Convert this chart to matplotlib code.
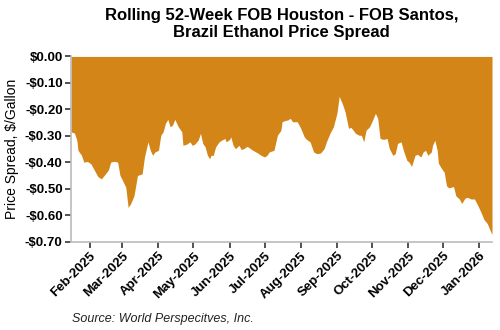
import matplotlib
matplotlib.use("Agg")
import matplotlib.pyplot as plt
import matplotlib.dates as mdates
import pandas as pd
import numpy as np

plt.rcParams['font.family'] = ['Liberation Sans', 'DejaVu Sans']

dates = [
    "2025-01-16", "2025-01-19", "2025-01-21", "2025-01-22", "2025-01-25", "2025-01-27",
    "2025-01-30", "2025-02-02", "2025-02-05", "2025-02-08", "2025-02-11", "2025-02-14",
    "2025-02-17", "2025-02-19", "2025-02-21", "2025-02-23", "2025-02-25", "2025-02-27",
    "2025-03-01", "2025-03-04", "2025-03-06", "2025-03-08", "2025-03-11", "2025-03-14",
    "2025-03-16", "2025-03-18", "2025-03-20", "2025-03-23", "2025-03-25", "2025-03-27",
    "2025-03-29", "2025-04-01", "2025-04-03", "2025-04-05", "2025-04-07", "2025-04-09",
    "2025-04-11", "2025-04-13", "2025-04-15", "2025-04-18", "2025-04-21", "2025-04-22",
    "2025-04-25", "2025-04-28", "2025-04-30", "2025-05-02", "2025-05-05", "2025-05-07",
    "2025-05-09", "2025-05-11", "2025-05-13", "2025-05-15", "2025-05-16", "2025-05-18",
    "2025-05-20", "2025-05-23", "2025-05-25", "2025-05-28", "2025-05-29", "2025-06-01",
    "2025-06-02", "2025-06-04", "2025-06-06", "2025-06-09", "2025-06-11", "2025-06-13",
    "2025-06-16", "2025-06-19", "2025-06-21", "2025-06-25", "2025-06-28", "2025-07-01",
    "2025-07-03", "2025-07-05", "2025-07-09", "2025-07-12", "2025-07-15", "2025-07-16",
    "2025-07-18", "2025-07-21", "2025-07-23", "2025-07-25", "2025-07-28", "2025-07-29",
    "2025-08-01", "2025-08-04", "2025-08-06", "2025-08-09", "2025-08-12", "2025-08-15",
    "2025-08-18", "2025-08-21", "2025-08-23", "2025-08-26", "2025-08-29", "2025-09-01",
    "2025-09-03", "2025-09-06", "2025-09-08", "2025-09-11", "2025-09-13", "2025-09-15",
    "2025-09-17", "2025-09-20", "2025-09-22", "2025-09-24", "2025-09-26", "2025-09-29",
    "2025-10-01", "2025-10-04", "2025-10-06", "2025-10-08", "2025-10-11", "2025-10-14",
    "2025-10-16", "2025-10-19", "2025-10-21", "2025-10-23", "2025-10-26", "2025-10-28",
    "2025-10-31", "2025-11-02", "2025-11-04", "2025-11-07", "2025-11-09", "2025-11-12",
    "2025-11-14", "2025-11-16", "2025-11-18", "2025-11-21", "2025-11-22", "2025-11-24",
    "2025-11-26", "2025-11-27", "2025-11-29", "2025-12-02", "2025-12-04", "2025-12-06",
    "2025-12-10", "2025-12-12", "2025-12-15", "2025-12-17", "2025-12-20", "2025-12-22",
    "2025-12-25", "2025-12-28", "2025-12-31", "2026-01-03", "2026-01-05", "2026-01-08",
    "2026-01-10", "2026-01-12",
]
spread = [
    -0.285, -0.290, -0.317, -0.355, -0.374, -0.400,
    -0.397, -0.406, -0.430, -0.454, -0.463, -0.447,
    -0.430, -0.400, -0.397, -0.397, -0.400, -0.450,
    -0.467, -0.495, -0.571, -0.558, -0.527, -0.450,
    -0.447, -0.444, -0.380, -0.323, -0.355, -0.374,
    -0.361, -0.355, -0.298, -0.285, -0.253, -0.238,
    -0.266, -0.260, -0.238, -0.266, -0.285, -0.336,
    -0.332, -0.323, -0.336, -0.332, -0.317, -0.291,
    -0.329, -0.342, -0.374, -0.387, -0.374, -0.374,
    -0.342, -0.323, -0.317, -0.310, -0.323, -0.314,
    -0.304, -0.336, -0.349, -0.336, -0.352, -0.349,
    -0.340, -0.349, -0.355, -0.365, -0.374, -0.380,
    -0.374, -0.361, -0.355, -0.298, -0.279, -0.247,
    -0.243, -0.240, -0.234, -0.247, -0.247, -0.247,
    -0.272, -0.304, -0.314, -0.323, -0.361, -0.368,
    -0.365, -0.349, -0.323, -0.291, -0.266, -0.215,
    -0.151, -0.183, -0.209, -0.272, -0.268, -0.279,
    -0.291, -0.298, -0.298, -0.323, -0.279, -0.266,
    -0.247, -0.215, -0.234, -0.310, -0.314, -0.310,
    -0.349, -0.374, -0.368, -0.329, -0.323, -0.355,
    -0.393, -0.400, -0.416, -0.374, -0.370, -0.380,
    -0.361, -0.355, -0.374, -0.361, -0.336, -0.317,
    -0.355, -0.403, -0.419, -0.438, -0.489, -0.497,
    -0.492, -0.527, -0.539, -0.556, -0.535, -0.533,
    -0.539, -0.539, -0.565, -0.594, -0.616, -0.632,
    -0.654, -0.673,
]
month_ticks = pd.date_range("2025-02-01", "2026-01-01", freq="MS")

x = pd.to_datetime(dates)
y = np.array(spread)

fig = plt.figure(figsize=(5, 3.3), dpi=100)
ax = fig.add_axes([0.142, 0.268, 0.842, 0.561])
ax.fill_between(x, y, 0, color='#D38517', linewidth=0)

ax.set_xlim(x[0], x[-1])
ax.set_ylim(-0.70, 0.0)
ax.set_yticks(np.arange(-0.70, 0.001, 0.10))
ax.yaxis.set_major_formatter(plt.FuncFormatter(
    lambda v, p: ('-$%.2f' % abs(v)) if v < -0.001 else '$%.2f' % abs(v)))
ax.set_xticks(month_ticks)
ax.xaxis.set_major_formatter(mdates.DateFormatter('%b-%Y'))

for lab in ax.get_yticklabels():
    lab.set_fontweight('bold')
    lab.set_fontsize(9.5)
for lab in ax.get_xticklabels():
    lab.set_fontweight('bold')
    lab.set_fontsize(9.5)
    lab.set_rotation(45)
    lab.set_ha('right')
    lab.set_rotation_mode('anchor')

ax.tick_params(axis='both', length=4, width=1.2, color='#333333', pad=2)
for side in ['top', 'right']:
    ax.spines[side].set_visible(False)
for side in ['left', 'bottom']:
    ax.spines[side].set_color('#bbbbbb')
    ax.spines[side].set_linewidth(1.2)

ax.set_ylabel('Price Spread, $/Gallon', fontsize=10, labelpad=4)
fig.text(0.563, 0.975, 'Rolling 52-Week FOB Houston - FOB Santos,\nBrazil Ethanol Price Spread',
         ha='center', va='top', fontsize=12, fontweight='bold', linespacing=1.15)
fig.text(0.143, 0.025, 'Source: World Perspecitves, Inc.', fontsize=9, style='italic',
         color='#222222')

fig.savefig('out.png', dpi=100)
